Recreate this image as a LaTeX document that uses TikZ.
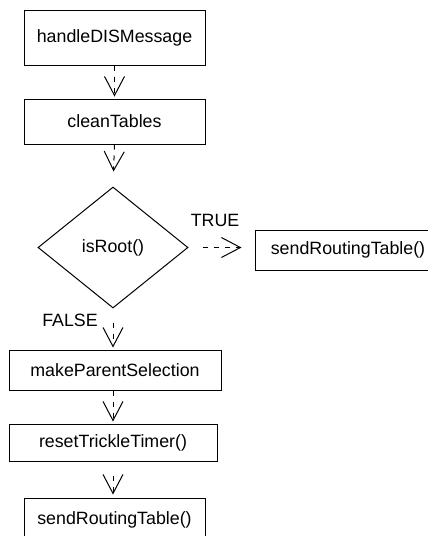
\documentclass[tikz,border=0pt]{standalone}
\usepackage{fontspec}
\setmainfont{Liberation Sans}
\usetikzlibrary{arrows.meta, shapes.geometric}

\tikzset{
  box/.style={draw, line width=1pt, minimum width=181pt, minimum height=45pt, inner sep=0pt},
  decision/.style={draw, diamond, line width=1pt, minimum width=150pt, minimum height=121pt, inner sep=0pt},
  flow/.style={line width=1pt, dash pattern=on 5pt off 6pt, -{Straight Barb[length=19pt, width=20pt]}},
}

\begin{document}
\begin{tikzpicture}[x=1pt, y=-1pt, font=\fontsize{17.8}{21}\selectfont]
\clip (0, 0) rectangle (428, 536);
\node[box, minimum height=55pt] (handle) at (114.5, 37.5) {handleDISMessage};
\node[box] (clean) at (114.5, 121.5) {cleanTables};
\node[decision] (isroot) at (113, 247.5) {isRoot()};
\node[box, minimum width=186pt, minimum height=40pt] (sendright) at (348, 250) {sendRoutingTable()};
\node[box, minimum width=212pt, minimum height=40pt] (parent) at (115, 370) {makeParentSelection};
\node[box, minimum width=208pt, minimum height=37pt] (trickle) at (113, 442.5) {resetTrickleTimer()};
\node[box, minimum height=44pt] (sendlast) at (114.5, 520) {sendRoutingTable()};
\node (true) at (215, 220) {TRUE};
\node (false) at (70, 320) {FALSE};
% dashed arrows between the steps
\draw[flow, shorten >=2pt] (handle.south) -- (clean.north);
\draw[flow, shorten >=15pt] (clean.south) -- (isroot.north);
\draw[flow, shorten <=14pt, shorten >=13pt] (isroot.east) -- (isroot.east -| sendright.west);
\draw[flow, shorten <=14pt, shorten >=2pt] (isroot.south) -- (isroot.south |- parent.north);
\draw[flow, shorten >=2pt] (parent.south -| trickle.north) -- (trickle.north);
\draw[flow, shorten <=14pt, shorten >=3pt] (trickle.south) -- (trickle.south |- sendlast.north);
\end{tikzpicture}
\end{document}
